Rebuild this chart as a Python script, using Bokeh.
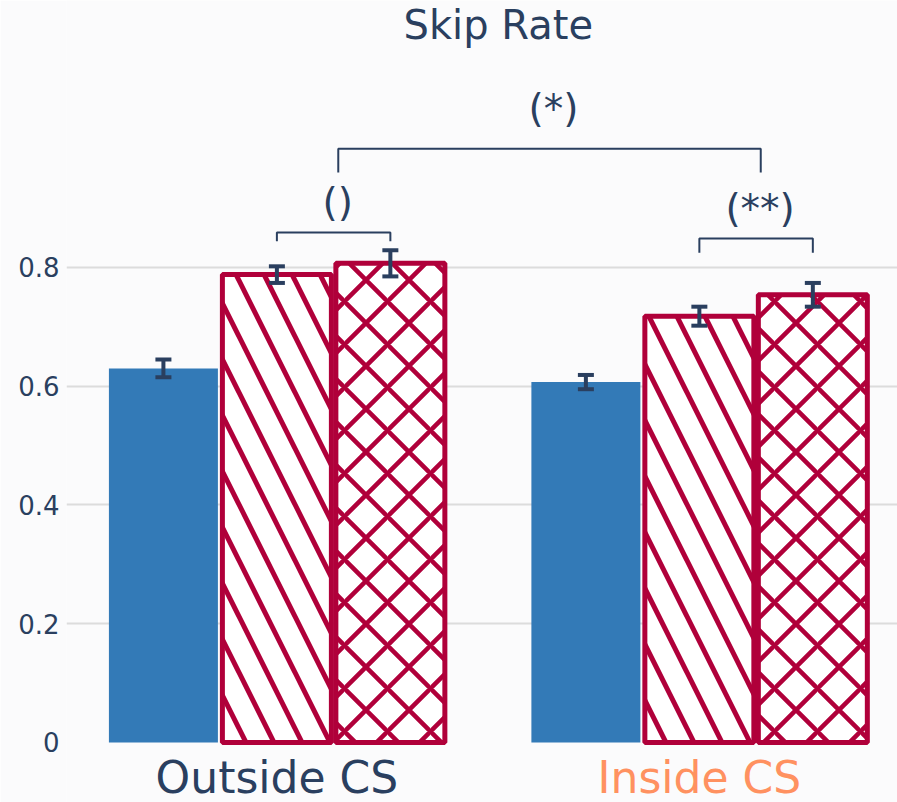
from bokeh.plotting import figure
from bokeh.models import FixedTicker, Range1d, Whisker, ColumnDataSource, TeeHead
from bokeh.core.properties import value
from bokeh.embed import file_html
from bokeh.resources import INLINE

# ---- data ----
groups = ["Outside CS", "Inside CS"]
group_label_colors = ["#2a3f5f", "#ff9160"]
series_names = ["solid", "diagonal", "cross"]
vals_solid = [0.630, 0.607]
vals_diag = [0.788, 0.718]
vals_cross = [0.807, 0.754]
err_solid = [0.015, 0.012]
err_diag = [0.014, 0.016]
err_cross = [0.022, 0.020]
y_ticks = [0, 0.2, 0.4, 0.6, 0.8]
y_tick_labels = ["0", "0.2", "0.4", "0.6", "0.8"]
title_text = "Skip Rate"
# significance annotations
sig_labels = ["()", "(**)", "(*)"]
sig_bracket_top = [0.859, 0.849, 1.000]
sig_bracket_bottom = [0.844, 0.825, 0.960]
sig_text_y = [0.884, 0.874, 1.0425]

# ---- styling ----
DARK = "#2a3f5f"
BLUE = "#337ab7"
CRIMSON = "#b0003a"
BG = "#fbfbfc"
FONT = "DejaVu Sans"
slot = 0.2686
bar_w = 0.258
group_x = [0.0, 1.0]
TEXT_SHIFT = -15  # px, baseline correction

p = figure(width=897, height=802, output_backend="svg", toolbar_location=None,
           x_range=Range1d(-0.498, 1.469), y_range=Range1d(-0.1011, 1.2497),
           x_axis_location=None, min_border_left=66, min_border_right=0,
           min_border_top=0, min_border_bottom=0)
p.background_fill_color = BG
p.border_fill_color = BG
p.outline_line_color = None

p.yaxis.ticker = FixedTicker(ticks=y_ticks)
p.yaxis.major_label_overrides = {t: l for t, l in zip(y_ticks, y_tick_labels)}
p.yaxis.axis_line_color = None
p.yaxis.major_tick_line_color = None
p.yaxis.minor_tick_line_color = None
p.yaxis.major_label_text_font = FONT
p.yaxis.major_label_text_font_size = "26px"
p.yaxis.major_label_text_color = DARK
p.yaxis.major_label_standoff = 1
p.xgrid.visible = False
p.ygrid.ticker = FixedTicker(ticks=[t for t in y_ticks if t > 0])
p.ygrid.grid_line_color = "#dcdcdc"
p.ygrid.grid_line_width = 2

x_solid = [g - slot for g in group_x]
x_diag = list(group_x)
x_cross = [g + slot for g in group_x]

p.vbar(x=x_solid, top=vals_solid, bottom=0, width=bar_w, fill_color=BLUE, line_color=None)
p.vbar(x=x_diag, top=vals_diag, bottom=0, width=bar_w, fill_color="white",
       line_color=CRIMSON, line_width=5, hatch_pattern="\\", hatch_color=CRIMSON,
       hatch_weight=5, hatch_scale=56)
p.vbar(x=x_cross, top=vals_cross, bottom=0, width=bar_w, fill_color="white",
       line_color=CRIMSON, line_width=5, hatch_pattern="x", hatch_color=CRIMSON,
       hatch_weight=4.5, hatch_scale=43)

xs = x_solid + x_diag + x_cross
ys = vals_solid + vals_diag + vals_cross
es = err_solid + err_diag + err_cross
err_src = ColumnDataSource(dict(x=xs, upper=[y + e for y, e in zip(ys, es)],
                                lower=[y - e for y, e in zip(ys, es)]))
w = Whisker(source=err_src, base="x", upper="upper", lower="lower",
            line_color=DARK, line_width=4, level="overlay",
            upper_head=TeeHead(size=16, line_color=DARK, line_width=4),
            lower_head=TeeHead(size=16, line_color=DARK, line_width=4))
p.add_layout(w)

# brackets: small ones span diagonal/cross bar centres per group; big one spans their midpoints
small_left = [x_diag[0], x_diag[1]]
small_right = [x_cross[0], x_cross[1]]
mid = [(a + b) / 2 + 0.011 for a, b in zip(small_left, small_right)]
bx_left = small_left + [mid[0]]
bx_right = small_right + [mid[1]]
xs_lines = [[l, l, r, r] for l, r in zip(bx_left, bx_right)]
ys_lines = [[b, t, t, b] for t, b in zip(sig_bracket_top, sig_bracket_bottom)]
p.multi_line(xs=xs_lines, ys=ys_lines, line_color=DARK, line_width=2)

text_x = [(l + r) / 2 for l, r in zip(bx_left, bx_right)]
p.text(x=text_x, y=sig_text_y, text=sig_labels, text_font=value(FONT),
       text_font_size="39px", text_color=DARK, text_align="center",
       text_baseline="alphabetic", x_offset=4, y_offset=TEXT_SHIFT)

# title
p.text(x=[0.524], y=[1.184], text=[title_text], text_font=value(FONT),
       text_font_size="40px", text_color=DARK, text_align="center",
       text_baseline="alphabetic", y_offset=TEXT_SHIFT)

# category labels
p.text(x=group_x, y=[-0.0842, -0.0842], text=groups, text_font=value(FONT),
       text_font_size="44px", text_color=group_label_colors, text_align="center",
       text_baseline="alphabetic", y_offset=TEXT_SHIFT)

open("out.html", "w").write(file_html(p, INLINE))
